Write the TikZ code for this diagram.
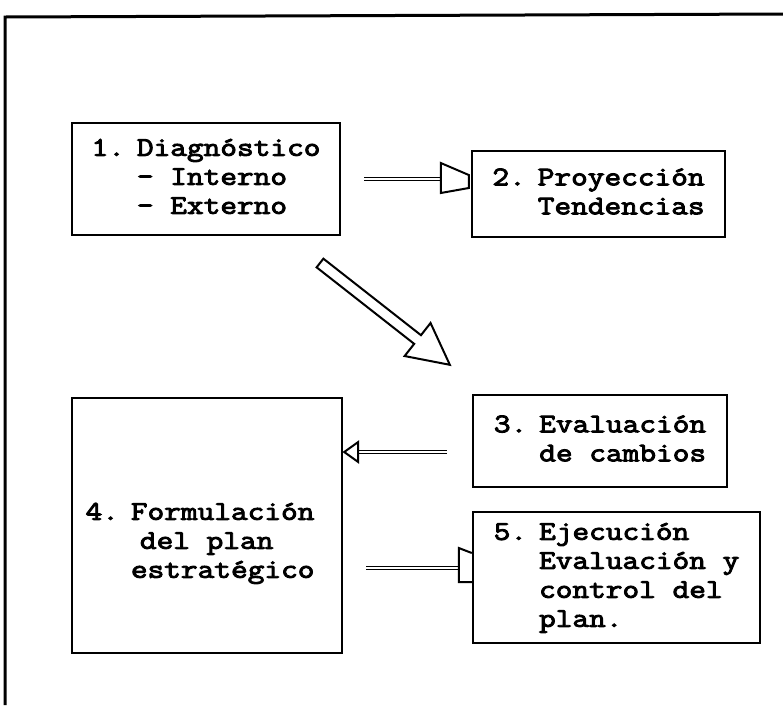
\documentclass[tikz,border=0pt]{standalone}
\usepackage{fontspec}
\usetikzlibrary{calc}
\newfontfamily\maquina[FakeStretch=1.2,FakeBold=3.5]{Latin Modern Mono}

\begin{document}
\begin{tikzpicture}[x=1pt,y=-1pt,
        caja/.style={draw,line width=2.4pt,inner sep=0pt},
        texto/.style={font=\maquina\fontsize{27}{29}\selectfont},
        doble/.style={double,double distance=2pt,line width=1.4pt},
        punta/.style={draw,line width=2pt,fill=white,line join=miter}]
        \def\paso#1#2{\begin{tabular}{@{}l@{\hspace{12pt}}l@{}}#1 & #2\end{tabular}}
        \useasboundingbox (0,0) rectangle (783,705);
        % marco de la hoja
        \draw[line width=3pt] (5,705) -- (5,17) -- (783,14);
        % cajas
        \node[caja,texto,minimum width=268pt,minimum height=112pt] (diag) at (206,179)
            {\paso{1.}{Diagnóstico\\ & - Interno\\ & - Externo}};
        \node[caja,texto,minimum width=253pt,minimum height=86pt] (proy) at (598.5,194)
            {\paso{2.}{Proyección\\ & Tendencias}};
        \node[caja,texto,minimum width=254pt,minimum height=92pt] (eval) at (600,441)
            {\paso{3.}{Evaluación\\ & de cambios}};
        \node[caja,minimum width=270pt,minimum height=255pt] (plan) at (207,525.5) {};
        \node[texto] (plantxt) at (200,543)
            {\paso{4.}{Formulación\\ & \hspace{9pt}del plan\\ & estratégico}};
        \node[caja,texto,minimum width=287pt,minimum height=131pt] (ejec) at (616.5,577.5)
            {\paso{5.}{Ejecución\\ & Evaluación y\\ & control del\\ & plan.}};
        % 1 -> 2
        \coordinate (c12) at ($(diag.east)+(23,0)$);
        \coordinate (p12) at (proy.west |- c12);
        \draw[doble] (c12) -- ($(p12)+(-30,0)$);
        \draw[punta] ($(p12)+(-30,-16)$) -- ($(p12)+(-2,-4)$) -- ($(p12)+(-2,9)$)
            -- ($(p12)+(-30,14)$) -- cycle;
        % flecha grande hacia 3
        \coordinate (flecha) at (320,263);
        \draw[punta,shift={(flecha)},rotate=-38.1] (0,-5.5) -- (124,-5.5) -- (124,-21)
            -- (165,0) -- (124,21) -- (124,5.5) -- (0,5.5) -- cycle;
        % 3 -> 4
        \coordinate (c34) at ($(eval.west)+(-25,11)$);
        \coordinate (p34) at (plan.east |- c34);
        \draw[doble] (c34) -- ($(p34)+(15,0)$);
        \draw[punta] ($(p34)+(15,-10)$) -- ($(p34)+(1,0)$) -- ($(p34)+(15,10)$) -- cycle;
        % 4 -> 5
        \coordinate (c45) at ($(plan.east)+(23,42.5)$);
        \coordinate (p45) at (ejec.west |- c45);
        \draw[doble] (c45) -- ($(p45)+(-13,0)$);
        \draw[punta] ($(p45)+(0,-15)$) -- ($(p45)+(-13,-20)$) -- ($(p45)+(-13,14)$)
            -- ($(p45)+(0,14)$);
    \end{tikzpicture}
\end{document}
